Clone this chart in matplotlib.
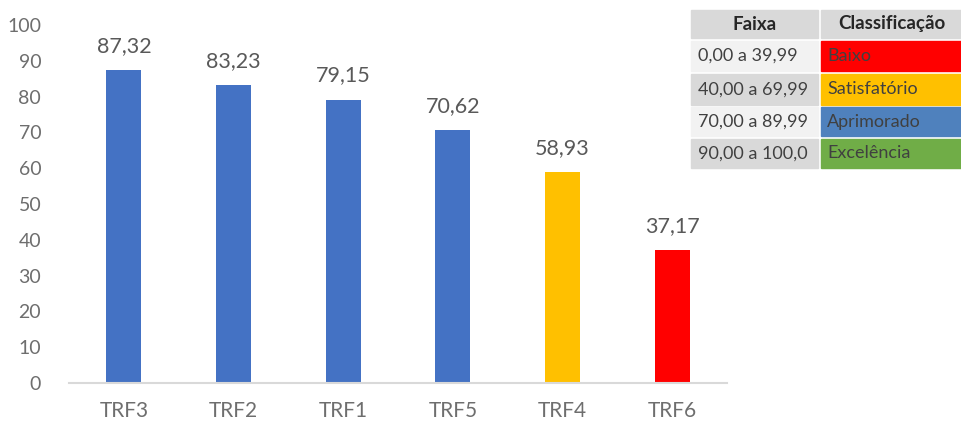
import matplotlib.pyplot as plt
from matplotlib.patches import Rectangle

plt.rcParams['font.family'] = ['Lato', 'DejaVu Sans']

# dados
tribunais = ['TRF3', 'TRF2', 'TRF1', 'TRF5', 'TRF4', 'TRF6']
notas = [87.32, 83.23, 79.15, 70.62, 58.93, 37.17]
cores = ['#4472C4', '#4472C4', '#4472C4', '#4472C4', '#FFC000', '#FF0000']

faixas = ['0,00 a 39,99', '40,00 a 69,99', '70,00 a 89,99', '90,00 a 100,0']
classes = ['Baixo', 'Satisfatório', 'Aprimorado', 'Excelência']
cores_classe = ['#FF0000', '#FFC000', '#4F81BD', '#70AD47']

cinza = '#595959'

fig = plt.figure(figsize=(9.62, 4.23), dpi=100)
ax = fig.add_axes([69/962, 1-383/423, (727-69)/962, (383-25)/423])

x = range(len(tribunais))
ax.bar(x, notas, width=0.32, color=cores)
for i, v in zip(x, notas):
    ax.text(i, v + 4.0, f'{v:.2f}'.replace('.', ','), ha='center', va='bottom',
            fontsize=15.5, color=cinza)

ax.set_xlim(-0.5, len(tribunais) - 0.5)
ax.set_ylim(0, 100)
ax.set_yticks(range(0, 101, 10))
ax.set_xticks(list(x))
ax.set_xticklabels(tribunais)
ax.tick_params(length=0, labelcolor='#6E6E6E')
ax.tick_params(axis='y', pad=20, labelsize=14)
ax.tick_params(axis='x', pad=13, labelsize=15)
for s in ['top', 'right', 'left']:
    ax.spines[s].set_visible(False)
ax.spines['bottom'].set_color('#D9D9D9')
ax.spines['bottom'].set_linewidth(1.5)

# tabela de classificação
tab = fig.add_axes([0, 0, 1, 1])
tab.set_xlim(0, 962)
tab.set_ylim(423, 0)
tab.axis('off')

c1, c2, c3 = 691, 818, 821
linhas = [(10, 38), (41, 71), (74, 105), (107, 136), (139, 168)]
fundo = ['#F2F2F2', '#D9D9D9', '#F2F2F2', '#D9D9D9']

y0, y1 = linhas[0]
tab.add_patch(Rectangle((c1, y0), c2 - c1, y1 - y0, color='#D9D9D9'))
tab.add_patch(Rectangle((c3, y0), 962 - c3, y1 - y0, color='#D9D9D9'))
tab.text((c1 + c2) / 2, (y0 + y1) / 2, 'Faixa', ha='center', va='center',
         fontsize=13.5, fontweight='bold', color='#262626')
tab.text((c3 + 962) / 2, (y0 + y1) / 2, 'Classificação', ha='center', va='center',
         fontsize=13.5, fontweight='bold', color='#262626')

for (y0, y1), f, c, cf, cc in zip(linhas[1:], faixas, classes, fundo, cores_classe):
    tab.add_patch(Rectangle((c1, y0), c2 - c1, y1 - y0, color=cf))
    tab.add_patch(Rectangle((c3, y0), 962 - c3, y1 - y0, color=cc))
    tab.text(c1 + 7, (y0 + y1) / 2, f, ha='left', va='center', fontsize=13, color='#404040')
    tab.text(c3 + 6, (y0 + y1) / 2, c, ha='left', va='center', fontsize=13, color='#404040')

plt.savefig('out.png', dpi=100)
